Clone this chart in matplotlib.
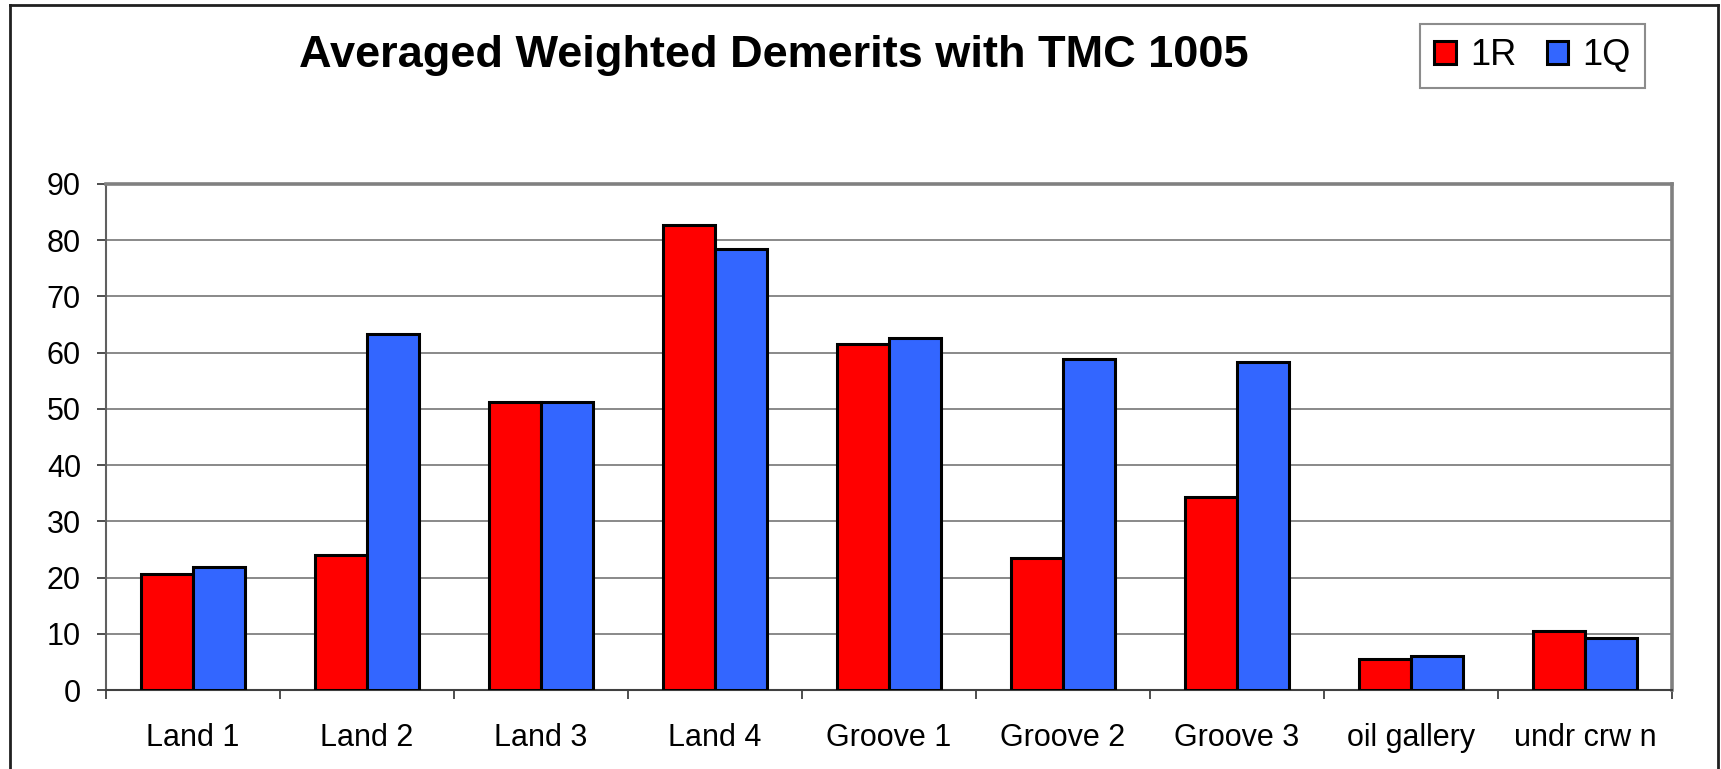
import matplotlib.pyplot as plt
import matplotlib.lines as mlines
import numpy as np

plt.rcParams['font.family'] = ['Liberation Sans', 'DejaVu Sans']

# ------------------------------------------------------------
# DATA
# ------------------------------------------------------------

categories = ["Land 1", "Land 2", "Land 3", "Land 4", "Groove 1",
              "Groove 2", "Groove 3", "oil gallery", "undr crw n"]
vals_1r = [20.7, 24.0, 51.2, 82.7, 61.6, 23.4, 34.4, 5.5, 10.5]
vals_1q = [21.8, 63.3, 51.2, 78.4, 62.6, 58.9, 58.3, 6.0, 9.3]
y_ticks = [0, 10, 20, 30, 40, 50, 60, 70, 80, 90]

RED = "#ff0000"
BLUE = "#3366ff"
GRID = "#808080"

# ------------------------------------------------------------
# PLOT
# ------------------------------------------------------------

W, H = 1721, 769
fig = plt.figure(figsize=(W / 100, H / 100), dpi=100)
ax = fig.add_axes([106 / W, 1 - 690 / H, (1672 - 106) / W, (690 - 184) / H])

x = np.arange(len(categories))
bw = 0.296
ax.bar(x - bw / 2, vals_1r, bw, color=RED, edgecolor="black", linewidth=2.2,
       label="1R", zorder=3)
ax.bar(x + bw / 2, vals_1q, bw, color=BLUE, edgecolor="black", linewidth=2.2,
       label="1Q", zorder=3)

ax.set_xlim(-0.5, len(categories) - 0.5)
ax.set_ylim(0, 90)
ax.set_yticks(y_ticks)
ax.set_yticklabels([str(v) for v in y_ticks], fontsize=22)
ax.yaxis.grid(True, color=GRID, linewidth=1.3, zorder=0)

# category labels at centres, tick marks at boundaries
ax.set_xticks(x)
ax.set_xticklabels(categories, fontsize=22)
ax.tick_params(axis="x", which="major", length=0, pad=24)
ax.set_xticks(np.arange(len(categories) + 1) - 0.5, minor=True)
ax.tick_params(axis="x", which="minor", length=6.5, width=1.3, color="#404040",
               direction="out")
ax.tick_params(axis="y", length=6.5, width=1.3, color="#404040", pad=11.5,
               direction="out")

for side in ["top", "right"]:
    ax.spines[side].set_color(GRID)
    ax.spines[side].set_linewidth(2.6)
ax.spines["left"].set_color("#606060")
ax.spines["left"].set_linewidth(1.5)
ax.spines["bottom"].set_color("#404040")
ax.spines["bottom"].set_linewidth(1.5)

fig.text(774 / W, 1 - 56 / H, "Averaged Weighted Demerits with TMC 1005",
         fontsize=32.5, fontweight="bold", ha="center", va="center")

leg = fig.legend(loc="upper right", bbox_to_anchor=(1645 / W, 1 - 24 / H),
                 ncol=2, fontsize=26, frameon=True, fancybox=False,
                 handlelength=0.6, handleheight=0.6, handletextpad=0.38,
                 columnspacing=0.85, borderpad=0.4, borderaxespad=0)
leg.get_frame().set_edgecolor("#707070")
leg.get_frame().set_linewidth(1.5)
for patch in leg.get_patches():
    patch.set_linewidth(2.2)

# outer frame of the chart area
frame_kw = dict(color="#202020", linewidth=2, transform=fig.transFigure)
fig.add_artist(mlines.Line2D([10 / W, 10 / W], [0, 1 - 5 / H], **frame_kw))
fig.add_artist(mlines.Line2D([10 / W, 1718 / W], [1 - 5 / H, 1 - 5 / H], **frame_kw))
fig.add_artist(mlines.Line2D([1718 / W, 1718 / W], [0, 1 - 5 / H], **frame_kw))

fig.savefig("out.png", dpi=100)
